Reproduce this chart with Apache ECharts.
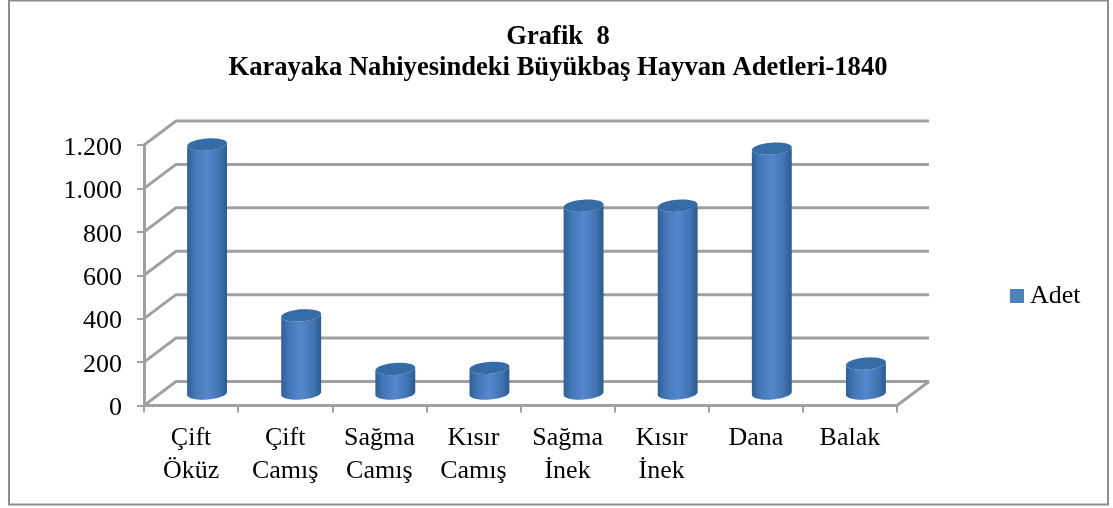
<!DOCTYPE html>
<html>
<head>
<meta charset="utf-8">
<style>
  html, body { margin: 0; padding: 0; background: #fff; }
  #chart { width: 1113px; height: 508px; }
</style>
<script src="https://cdn.jsdelivr.net/npm/echarts@6/dist/echarts.min.js"></script>
</head>
<body>
<div id="chart"></div>
<script>
// veriler
const categories = ['Çift\nÖküz', 'Çift\nCamış', 'Sağma\nCamış', 'Kısır\nCamış', 'Sağma\nİnek', 'Kısır\nİnek', 'Dana', 'Balak'];
const adet = [1147, 360, 113, 118, 865, 865, 1128, 138];
const yTicks = [0, 200, 400, 600, 800, 1000, 1200];

const font = '"Liberation Serif", "Times New Roman", serif';
const gridColor = '#a0a0a0';
// 3B derinlik (arka duvar kayması)
const depthX = 32;
const depthY = 24;

function ellipsePoints(cx, cy, rx, ry, from, to, steps) {
  const tilt = -4.5 * Math.PI / 180;
  const pts = [];
  for (let i = 0; i <= steps; i++) {
    const t = from + (to - from) * i / steps;
    const ex = rx * Math.cos(t);
    const ey = ry * Math.sin(t);
    pts.push([cx + ex * Math.cos(tilt) - ey * Math.sin(tilt), cy + ex * Math.sin(tilt) + ey * Math.cos(tilt)]);
  }
  return pts;
}

function renderWall(params, api) {
  const sys = params.coordSys;
  const y = api.coord([0, api.value(1)])[1];
  const left = sys.x;
  const right = sys.x + sys.width;
  const style = { stroke: gridColor, lineWidth: 3, fill: null };
  const children = [{
    type: 'polyline',
    shape: { points: [[left, y], [left + depthX, y - depthY], [right + depthX, y - depthY]] },
    style: style
  }];
  if (api.value(1) === 0) {
    children.push({
      type: 'line',
      shape: { x1: right, y1: y, x2: right + depthX, y2: y - depthY },
      style: style
    });
  }
  return { type: 'group', children: children };
}

function renderCylinder(params, api) {
  const top = api.coord([api.value(0), api.value(1)]);
  const base = api.coord([api.value(0), 0]);
  const cx = top[0] + depthX / 2;
  const yTop = top[1] - depthY / 2;
  const yBase = base[1] - depthY / 2;
  const rx = 20;
  const ry = 6;
  const body = ellipsePoints(cx, yBase, rx, ry, 0, Math.PI, 24)
    .concat(ellipsePoints(cx, yTop, rx, ry, Math.PI, 0, 24));
  const bodyFill = new echarts.graphic.LinearGradient(0, 0, 1, 0, [
    { offset: 0, color: '#2f5f98' },
    { offset: 0.2, color: '#4477b6' },
    { offset: 0.5, color: '#5588cc' },
    { offset: 0.8, color: '#4274b2' },
    { offset: 1, color: '#2c5a90' }
  ]);
  return {
    type: 'group',
    children: [
      { type: 'polygon', shape: { points: body }, style: { fill: bodyFill } },
      { type: 'polygon', shape: { points: ellipsePoints(cx, yTop, rx, ry, 0, Math.PI * 2, 48) }, style: { fill: '#356ba6' } }
    ]
  };
}

const myChart = echarts.init(document.getElementById('chart'));
myChart.setOption({
  animation: false,
  backgroundColor: '#fff',
  title: {
    text: 'Grafik  8\nKarayaka Nahiyesindeki Büyükbaş Hayvan Adetleri-1840',
    left: 553,
    top: 17,
    textAlign: 'center',
    textStyle: { fontFamily: font, fontSize: 26.6, fontWeight: 'bold', color: '#000', lineHeight: 31 }
  },
  legend: {
    data: ['Adet'],
    left: 1005,
    top: 278,
    itemWidth: 14,
    itemHeight: 14,
    itemGap: 0,
    icon: 'rect',
    textStyle: { fontFamily: font, fontSize: 26, color: '#000', padding: [0, 0, 0, 1] }
  },
  grid: { left: 144, right: 216, top: 145, bottom: 102.5 },
  graphic: [{
    type: 'rect',
    silent: true,
    z: -1,
    shape: { x: 9, y: 0.5, width: 1099, height: 504 },
    style: { fill: '#fff', stroke: '#8c8c8c', lineWidth: 2 }
  }],
  xAxis: {
    type: 'category',
    data: categories,
    boundaryGap: true,
    axisLine: { lineStyle: { color: gridColor, width: 3 } },
    axisTick: { show: true, alignWithLabel: false, length: 7, lineStyle: { color: gridColor, width: 2 } },
    axisLabel: { interval: 0, margin: 16, fontFamily: font, fontSize: 26, color: '#000', lineHeight: 33 },
    splitLine: { show: false }
  },
  yAxis: {
    type: 'value',
    min: 0,
    max: 1200,
    interval: 200,
    axisLine: { show: true, lineStyle: { color: gridColor, width: 3 } },
    axisTick: { show: true, length: 7, lineStyle: { color: gridColor, width: 2 } },
    axisLabel: {
      margin: 22,
      fontFamily: font,
      fontSize: 26,
      color: '#000',
      formatter: function (v) { return '{n|' + String(v).replace(/\B(?=(\d{3})+$)/g, '.') + '}'; },
      rich: {
        n: { fontFamily: font, fontSize: 26, color: '#000', padding: [6, 0, 0, 0] }
      }
    },
    splitLine: { show: false }
  },
  series: [
    {
      name: 'Izgara',
      type: 'custom',
      z: 1,
      silent: true,
      clip: false,
      renderItem: renderWall,
      encode: { x: 0, y: 1 },
      data: yTicks.map(function (t) { return [0, t]; })
    },
    {
      name: 'Adet',
      type: 'custom',
      z: 2,
      clip: false,
      itemStyle: { color: '#4f81bd' },
      renderItem: renderCylinder,
      encode: { x: 0, y: 1 },
      data: adet.map(function (v, i) { return [i, v]; })
    }
  ]
});
</script>
</body>
</html>
